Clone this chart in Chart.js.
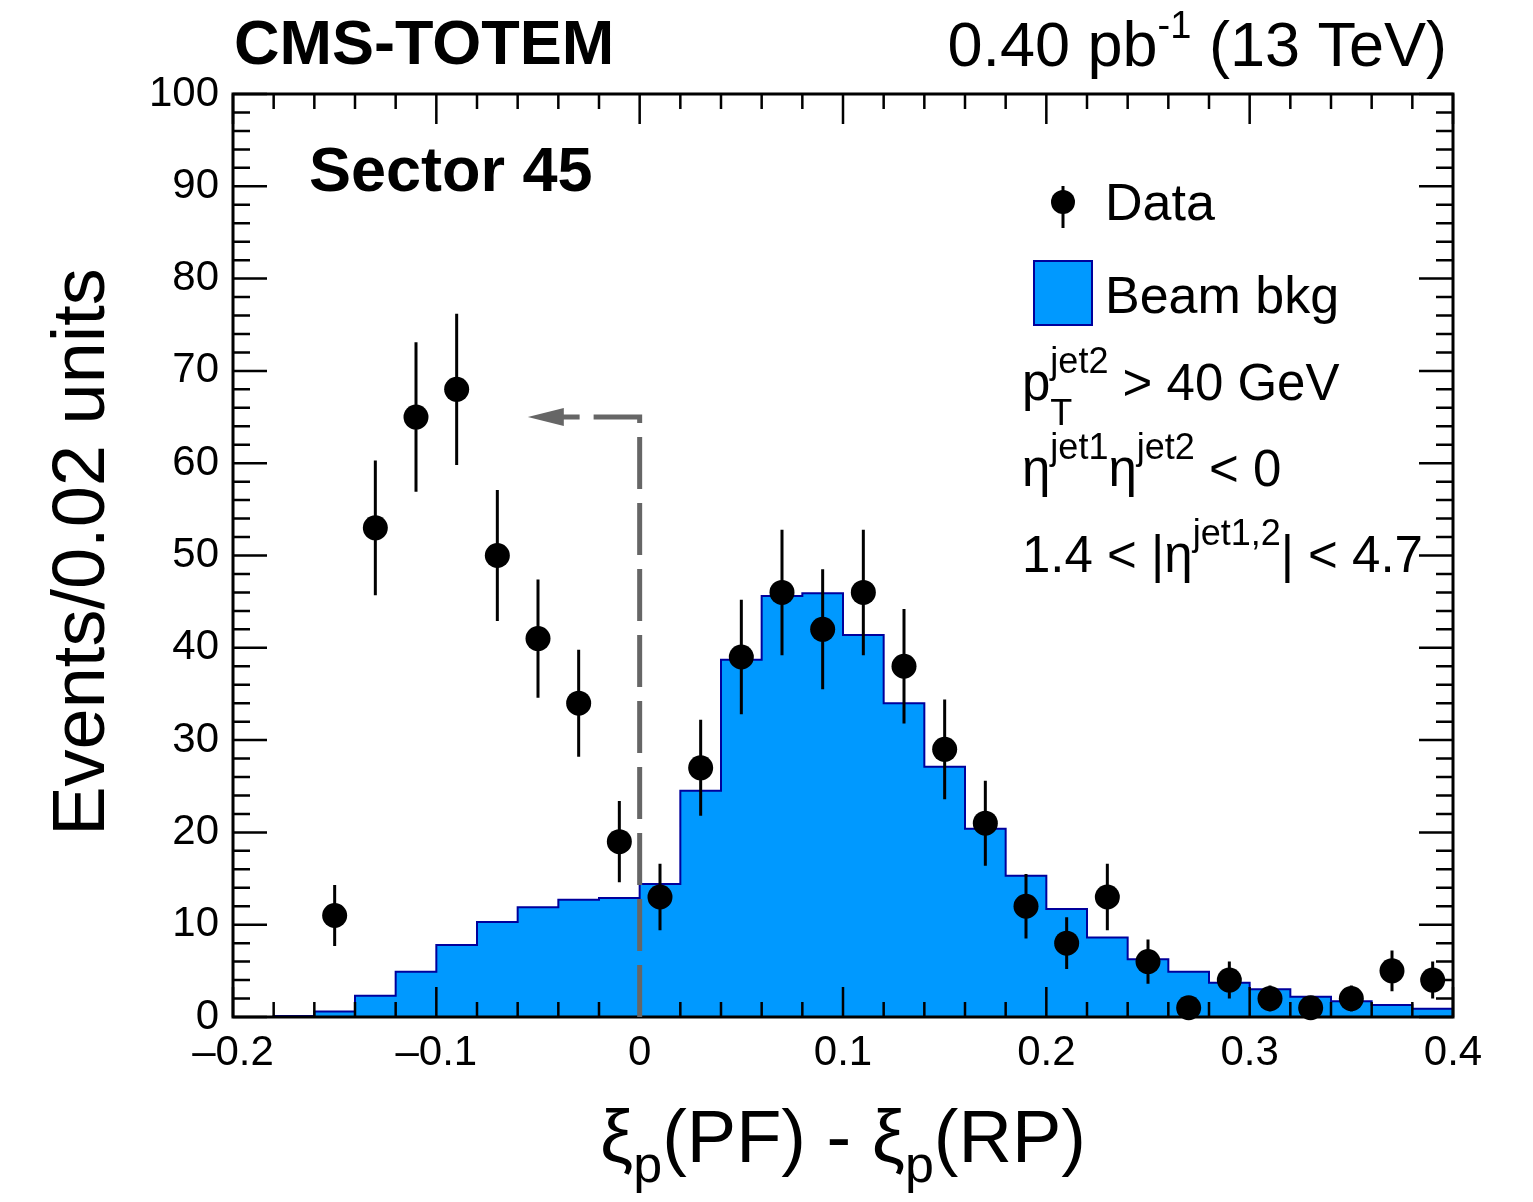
<!DOCTYPE html>
<html>
<head>
<meta charset="utf-8">
<script src="https://cdn.jsdelivr.net/npm/chart.js@4/dist/chart.umd.min.js"></script>
<style>
  html, body { margin:0; padding:0; background:#fff; }
  canvas { display:block; }
</style>
</head>
<body>
<canvas id="c" width="1533" height="1202"></canvas>
<script>
// bords des bins du fond (largeur 0.02) et contenu
const binEdges = [-0.20,-0.18,-0.16,-0.14,-0.12,-0.10,-0.08,-0.06,-0.04,-0.02,0.00,
                  0.02,0.04,0.06,0.08,0.10,0.12,0.14,0.16,0.18,0.20,
                  0.22,0.24,0.26,0.28,0.30,0.32,0.34,0.36,0.38,0.40]
const bkgValues = [0,0.1,0.6,2.3,4.9,7.8,10.3,11.9,12.7,12.9,
                   14.4,24.5,38.7,45.6,45.9,41.4,34.0,27.1,20.4,15.3,
                   11.7,8.6,6.25,4.9,3.7,3.0,2.2,1.7,1.3,0.9]

// points de données (centre des bins), valeurs et erreurs
const dataX = [-0.15,-0.13,-0.11,-0.09,-0.07,-0.05,-0.03,-0.01,0.01,0.03,0.05,0.07,0.09,0.11,
               0.13,0.15,0.17,0.19,0.21,0.23,0.25,0.27,0.29,0.31,0.33,0.35,0.37,0.39]
const dataY = [11,53,65,68,50,41,34,19,13,27,39,46,42,46,
               38,29,21,12,8,13,6,1,4,2,1,2,5,4]
const dataErr = [3.3,7.3,8.1,8.2,7.1,6.4,5.8,4.4,3.6,5.2,6.2,6.8,6.5,6.8,
                 6.2,5.4,4.6,3.5,2.8,3.6,2.4,1.0,2.0,1.4,1.0,1.4,2.2,2.0]

// coupure (ligne pointillée + flèche)
const cutX = [0, 0, -0.038]
const cutY = [0, 65, 65]
const arrowTip = [-0.055, 65]

const xTicks = {min:-0.2, max:0.4, step:0.1}
const yTicks = {min:0, max:100, step:10}

const FONT = '"Liberation Sans", Arial, Helvetica, sans-serif'
const BLUE = '#0099ff'
const DARKBLUE = '#00009c'
const GREY = '#666666'

// histogramme en escalier : un point par bord gauche + le dernier bord
var bkgPoints = []
for (var i = 0; i < bkgValues.length; i++) bkgPoints.push({x: binEdges[i], y: bkgValues[i]})
bkgPoints.push({x: binEdges[binEdges.length-1], y: bkgValues[bkgValues.length-1]})

var dataPoints = dataX.map((x, i) => ({x: x, y: dataY[i]}))
var cutPoints = cutX.map((x, i) => ({x: x, y: cutY[i]}))

// texte avec indices / exposants
function richText(ctx, parts, x, y, size, align) {
  function font(p) { return (p.bold ? 'bold ' : '') + Math.round(size * (p.s || 1)) + 'px ' + FONT }
  // largeur totale
  var total = 0, keepW = null
  parts.forEach(p => {
    ctx.font = font(p)
    var w = ctx.measureText(p.t).width
    if (p.keep) { keepW = w }
    else if (keepW !== null) { total += Math.max(keepW, w); keepW = null }
    else total += w
  })
  var cx = align == 'right' ? x - total : align == 'center' ? x - total / 2 : x
  var x0 = null, w0 = 0
  ctx.textAlign = 'left'
  ctx.textBaseline = 'alphabetic'
  parts.forEach(p => {
    ctx.font = font(p)
    var w = ctx.measureText(p.t).width
    if (p.keep) { x0 = cx; w0 = w; ctx.fillText(p.t, cx, y + (p.dy || 0)); return }
    if (x0 !== null) { ctx.fillText(p.t, x0, y + (p.dy || 0)); cx = x0 + Math.max(w0, w); x0 = null; return }
    ctx.fillText(p.t, cx, y + (p.dy || 0))
    cx += w
  })
}

const rootStyle = {
  id: 'rootStyle',
  afterDatasetDraw(chart, args) {
    const ctx = chart.ctx, a = chart.chartArea
    const xs = chart.scales.x, ys = chart.scales.y
    if (args.index === 0) {
      // cadre + graduations vers l'intérieur
      ctx.save()
      ctx.strokeStyle = '#000'
      ctx.lineWidth = 2.5
      var xm = xs.ticks.map(t => t.value)
      ctx.beginPath()
      for (var i = 0; i < xm.length; i++) {
        var px = xs.getPixelForValue(xm[i])
        ctx.moveTo(px, a.bottom); ctx.lineTo(px, a.bottom - 30)
        ctx.moveTo(px, a.top); ctx.lineTo(px, a.top + 30)
        if (i < xm.length - 1) {
          for (var k = 1; k < 5; k++) {
            var pm = xs.getPixelForValue(xm[i] + (xm[i+1] - xm[i]) * k / 5)
            ctx.moveTo(pm, a.bottom); ctx.lineTo(pm, a.bottom - 15)
            ctx.moveTo(pm, a.top); ctx.lineTo(pm, a.top + 15)
          }
        }
      }
      var ym = ys.ticks.map(t => t.value)
      for (var i = 0; i < ym.length; i++) {
        var py = ys.getPixelForValue(ym[i])
        ctx.moveTo(a.left, py); ctx.lineTo(a.left + 34, py)
        ctx.moveTo(a.right, py); ctx.lineTo(a.right - 34, py)
        if (i < ym.length - 1) {
          for (var k = 1; k < 5; k++) {
            var pm = ys.getPixelForValue(ym[i] + (ym[i+1] - ym[i]) * k / 5)
            ctx.moveTo(a.left, pm); ctx.lineTo(a.left + 17, pm)
            ctx.moveTo(a.right, pm); ctx.lineTo(a.right - 17, pm)
          }
        }
      }
      ctx.stroke()
      ctx.lineWidth = 3
      ctx.strokeRect(a.left, a.top, a.right - a.left, a.bottom - a.top)
      ctx.restore()
    }
    if (args.index === 1) {
      // tête de flèche
      var tx = xs.getPixelForValue(arrowTip[0]), ty = ys.getPixelForValue(arrowTip[1])
      ctx.save()
      ctx.fillStyle = GREY
      ctx.beginPath()
      ctx.moveTo(tx, ty); ctx.lineTo(tx + 36, ty - 9); ctx.lineTo(tx + 36, ty + 9)
      ctx.closePath(); ctx.fill()
      ctx.restore()
    }
  },
  beforeDatasetDraw(chart, args) {
    if (args.index !== 2) return
    // barres d'erreur
    const ctx = chart.ctx, xs = chart.scales.x, ys = chart.scales.y
    ctx.save()
    ctx.strokeStyle = '#000'
    ctx.lineWidth = 3
    ctx.beginPath()
    for (var i = 0; i < dataX.length; i++) {
      var px = xs.getPixelForValue(dataX[i])
      ctx.moveTo(px, ys.getPixelForValue(dataY[i] + dataErr[i]))
      ctx.lineTo(px, ys.getPixelForValue(dataY[i] - dataErr[i]))
    }
    ctx.stroke()
    ctx.restore()
  },
  afterDraw(chart) {
    const ctx = chart.ctx
    ctx.save()
    ctx.fillStyle = '#000'
    richText(ctx, [{t:'CMS-TOTEM', bold:true}], 234, 64, 63, 'left')
    richText(ctx, [{t:'0.40 pb'}, {t:'-1', s:0.6, dy:-28}, {t:' (13 TeV)'}], 1447, 66, 63, 'right')
    richText(ctx, [{t:'Sector 45', bold:true}], 309, 191, 63, 'left')

    // légende
    ctx.strokeStyle = '#000'; ctx.lineWidth = 3
    ctx.beginPath(); ctx.moveTo(1063, 186); ctx.lineTo(1063, 228); ctx.stroke()
    ctx.beginPath(); ctx.arc(1063, 202, 12, 0, 2 * Math.PI); ctx.fill()
    richText(ctx, [{t:'Data'}], 1105, 220, 51.5, 'left')
    ctx.fillStyle = BLUE; ctx.fillRect(1034, 261, 58, 64)
    ctx.strokeStyle = DARKBLUE; ctx.lineWidth = 2; ctx.strokeRect(1034, 261, 58, 64)
    ctx.fillStyle = '#000'
    richText(ctx, [{t:'Beam bkg'}], 1105, 313, 51.5, 'left')

    // sélections
    richText(ctx, [{t:'p'}, {t:'jet2', s:0.7, dy:-27}, {t:'T', s:0.7, dy:25, back:true}, {t:' > 40 GeV'}].map(p => p.t == 'jet2' ? Object.assign(p, {keep:true}) : p), 1022, 400, 51, 'left')
    richText(ctx, [{t:'\u03b7'}, {t:'jet1', s:0.7, dy:-27}, {t:'\u03b7'}, {t:'jet2', s:0.7, dy:-27}, {t:' < 0'}], 1022, 486, 51, 'left')
    richText(ctx, [{t:'1.4 < |\u03b7'}, {t:'jet1,2', s:0.7, dy:-27}, {t:'| < 4.7'}], 1022, 572, 51, 'left')

    // titres des axes
    richText(ctx, [{t:'\u03be'}, {t:'p', s:0.7, dy:20}, {t:'(PF) - '}, {t:'\u03be'}, {t:'p', s:0.7, dy:20}, {t:'(RP)'}], 843, 1162, 74, 'center')
    ctx.translate(104, 552)
    ctx.rotate(-Math.PI / 2)
    richText(ctx, [{t:'Events/0.02 units'}], 0, 0, 74, 'center')
    ctx.restore()
  }
}

const chart = new Chart(document.getElementById('c'), {
  type: 'line',
  data: {
    datasets: [
      {
        label: 'Beam bkg',
        data: bkgPoints,
        stepped: true,
        fill: 'origin',
        backgroundColor: BLUE,
        borderColor: DARKBLUE,
        borderWidth: 2,
        pointRadius: 0,
        order: 3
      },
      {
        label: 'cut',
        data: cutPoints,
        borderColor: GREY,
        borderWidth: 5,
        borderDash: [52, 14],
        pointRadius: 0,
        fill: false,
        order: 2,
        clip: false
      },
      {
        label: 'Data',
        data: dataPoints,
        showLine: false,
        pointRadius: 12.5,
        pointBackgroundColor: '#000',
        pointBorderColor: '#000',
        pointBorderWidth: 0,
        order: 1,
        clip: false
      }
    ]
  },
  options: {
    responsive: false,
    animation: false,
    devicePixelRatio: 1,
    layout: { padding: { left: 0, top: 94, right: 80, bottom: 0 } },
    plugins: { legend: { display: false }, tooltip: { enabled: false } },
    scales: {
      x: {
        type: 'linear',
        min: xTicks.min, max: xTicks.max,
        grid: { display: false, drawTicks: false },
        border: { display: false },
        ticks: {
          stepSize: xTicks.step,
          padding: 11,
          color: '#000',
          font: { family: FONT, size: 42 },
          maxRotation: 0,
          callback: v => {
            var r = Math.round(v * 10) / 10
            if (r === 0) return '0'
            return (r < 0 ? '\u2013' : '') + Math.abs(r).toFixed(1)
          }
        },
        afterFit: s => { s.height = 185 }
      },
      y: {
        min: yTicks.min, max: yTicks.max,
        grid: { display: false, drawTicks: false },
        border: { display: false },
        ticks: {
          stepSize: yTicks.step,
          padding: 14,
          color: '#000',
          font: { family: FONT, size: 42 }
        },
        afterFit: s => { s.width = 233 }
      }
    }
  },
  plugins: [rootStyle]
})
</script>
</body>
</html>
